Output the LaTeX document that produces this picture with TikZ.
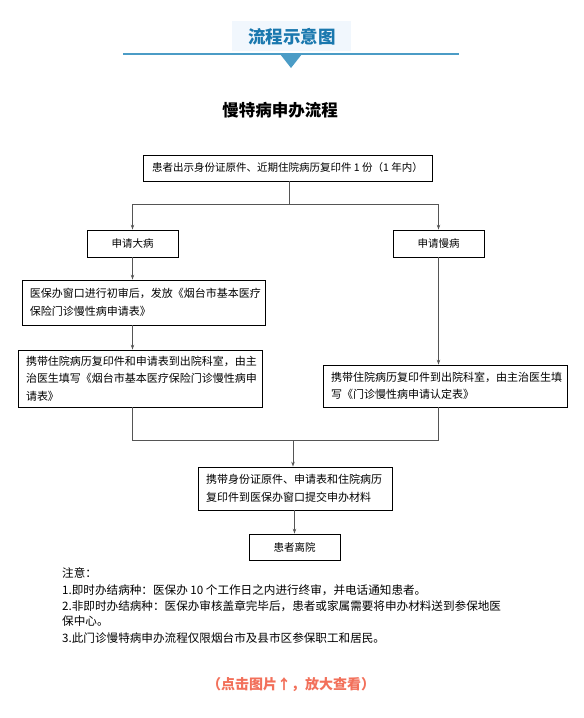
\documentclass[tikz,border=0pt]{standalone}
\usepackage{fontspec}
\setmainfont{Noto Sans CJK SC}
\usetikzlibrary{arrows.meta}
\definecolor{hdrblue}{HTML}{1A78AE}
\definecolor{hdrline}{HTML}{4B9CC6}
\definecolor{hdrfill}{HTML}{F1F7FD}
\definecolor{linegray}{HTML}{555555}
\definecolor{notered}{HTML}{F2705A}
\tikzset{
  box/.style={draw=black, line width=0.8pt, inner sep=4pt, font=\fontsize{10.5}{15}\selectfont},
  wbox/.style={draw=black, line width=0.8pt, inner xsep=8pt, inner ysep=3pt, align=left, text width=#1, font=\fontsize{11}{17.5}\selectfont},
  conn/.style={draw=linegray, line width=0.9pt},
  arr/.style={conn, -{Stealth[length=5pt,width=3.5pt]}},
  note/.style={anchor=west, inner sep=0pt, font=\fontsize{11.6}{13}\selectfont}
}
\begin{document}
\begin{tikzpicture}[x=1pt,y=-1pt]
\useasboundingbox (0,0) rectangle (584,718);
% header
\fill[hdrfill] (232,21) rectangle (351,51);
\node[font=\bfseries\fontsize{17.5}{20}\selectfont, text=hdrblue] (hdr) at (292,37) {流程示意图};
\draw[hdrline, line width=2pt] (123,54) -- (459,54);
\fill[hdrline] (280,54) -- (302,54) -- (291,68) -- cycle;
% title
\node[font=\bfseries\fontsize{16.5}{18}\selectfont] (title) at (280,110) {慢特病申办流程};
% boxes
\node[box, minimum width=289, minimum height=26] (b1) at (287.5,168) {患者出示身份证原件、近期住院病历复印件 1 份（1 年内）};
\node[box, minimum width=91, minimum height=27] (bd) at (132.5,243.5) {申请大病};
\node[box, minimum width=91, minimum height=27] (bm) at (438.5,243.5) {申请慢病};
\node[wbox=227, minimum height=45] (b3) at (143.5,302.5) {医保办窗口进行初审后，发放《烟台市基本医疗\\保险门诊慢性病申请表》};
\node[wbox=228, minimum height=57] (b4) at (140,378.5) {携带住院病历复印件和申请表到出院科室，由主\\治医生填写《烟台市基本医疗保险门诊慢性病申\\请表》};
\node[wbox=228, minimum height=42] (b5) at (445,386) {携带住院病历复印件到出院科室，由主治医生填\\写《门诊慢性病申请认定表》};
\node[wbox=178, minimum height=43] (b6) at (295,488.5) {携带身份证原件、申请表和住院病历\\复印件到医保办窗口提交申办材料};
\node[box, minimum width=91, minimum height=26] (b7) at (294.5,547) {患者离院};
% connectors
\coordinate (split) at (289,204);
\coordinate (merge) at (293,440);
\draw[conn] (b1.south -| split) -- (split);
\draw[conn] (bd.north |- split) -- (bm.north |- split);
\draw[arr] (bd.north |- split) -- (bd.north);
\draw[arr] (bm.north |- split) -- (bm.north);
\draw[arr] (bd.south) -- (bd.south |- b3.north);
\draw[arr] (bd.south |- b3.south) -- (bd.south |- b4.north);
\draw[arr] (bm.south) -- (bm.south |- b5.north);
\draw[conn] (bd.south |- b4.south) -- (bd.south |- merge) -- (bm.south |- merge) -- (bm.south |- b5.south);
\draw[arr] (merge) -- (merge |- b6.north);
\draw[arr] (b6.south -| b7.north) -- (b7.north);
% notes
\node[note] (n0) at (62,573) {注意：};
\node[note] (n1) at (62,590) {1.即时办结病种：医保办 10 个工作日之内进行终审，并电话通知患者。};
\node[note] (n2) at (62,606) {2.非即时办结病种：医保办审核盖章完毕后，患者或家属需要将申办材料送到参保地医};
\node[note] (n3) at (62,621) {保中心。};
\node[note] (n4) at (62,638) {3.此门诊慢特病申办流程仅限烟台市及县市区参保职工和居民。};
% footer
\node[font=\bfseries\fontsize{14}{16}\selectfont, text=notered] (foot) at (291,685) {（点击图片↑，放大查看）};
\end{tikzpicture}
\end{document}
